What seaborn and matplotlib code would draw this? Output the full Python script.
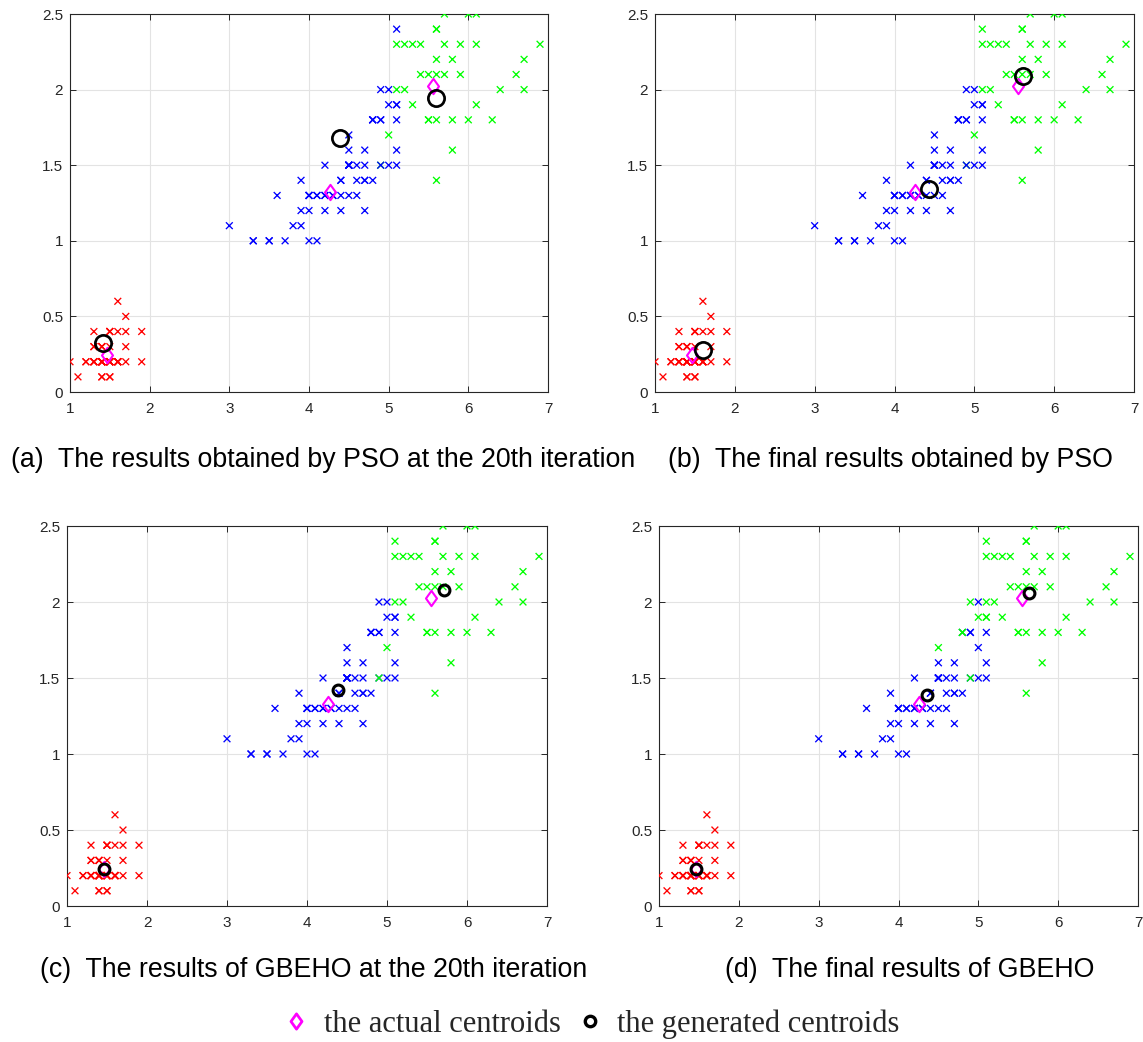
import numpy as np
import pandas as pd
import matplotlib
matplotlib.use("Agg")
import matplotlib.pyplot as plt
from matplotlib.path import Path
from matplotlib.lines import Line2D
import seaborn as sns

# ---------------- data (Iris: petal length / petal width) ----------------
petal_length = [
    1.4, 1.4, 1.3, 1.5, 1.4, 1.7, 1.4, 1.5, 1.4, 1.5,
    1.5, 1.6, 1.4, 1.1, 1.2, 1.5, 1.3, 1.4, 1.7, 1.5,
    1.7, 1.5, 1.0, 1.7, 1.9, 1.6, 1.6, 1.5, 1.4, 1.6,
    1.6, 1.5, 1.5, 1.4, 1.5, 1.2, 1.3, 1.4, 1.3, 1.5,
    1.3, 1.3, 1.3, 1.6, 1.9, 1.4, 1.6, 1.4, 1.5, 1.4,
    4.7, 4.5, 4.9, 4.0, 4.6, 4.5, 4.7, 3.3, 4.6, 3.9,
    3.5, 4.2, 4.0, 4.7, 3.6, 4.4, 4.5, 4.1, 4.5, 3.9,
    4.8, 4.0, 4.9, 4.7, 4.3, 4.4, 4.8, 5.0, 4.5, 3.5,
    3.8, 3.7, 3.9, 5.1, 4.5, 4.5, 4.7, 4.4, 4.1, 4.0,
    4.4, 4.6, 4.0, 3.3, 4.2, 4.2, 4.2, 4.3, 3.0, 4.1,
    6.0, 5.1, 5.9, 5.6, 5.8, 6.6, 4.5, 6.3, 5.8, 6.1,
    5.1, 5.3, 5.5, 5.0, 5.1, 5.3, 5.5, 6.7, 6.9, 5.0,
    5.7, 4.9, 6.7, 4.9, 5.7, 6.0, 4.8, 4.9, 5.6, 5.8,
    6.1, 6.4, 5.6, 5.1, 5.6, 6.1, 5.6, 5.5, 4.8, 5.4,
    5.6, 5.1, 5.1, 5.9, 5.7, 5.2, 5.0, 5.2, 5.4, 5.1,
]
petal_width = [
    0.2, 0.2, 0.2, 0.2, 0.2, 0.4, 0.3, 0.2, 0.2, 0.1,
    0.2, 0.2, 0.1, 0.1, 0.2, 0.4, 0.4, 0.3, 0.3, 0.3,
    0.2, 0.4, 0.2, 0.5, 0.2, 0.2, 0.4, 0.2, 0.2, 0.2,
    0.2, 0.4, 0.1, 0.2, 0.2, 0.2, 0.2, 0.1, 0.2, 0.2,
    0.3, 0.3, 0.2, 0.6, 0.4, 0.3, 0.2, 0.2, 0.2, 0.2,
    1.4, 1.5, 1.5, 1.3, 1.5, 1.3, 1.6, 1.0, 1.3, 1.4,
    1.0, 1.5, 1.0, 1.4, 1.3, 1.4, 1.5, 1.0, 1.5, 1.1,
    1.8, 1.3, 1.5, 1.2, 1.3, 1.4, 1.4, 1.7, 1.5, 1.0,
    1.1, 1.0, 1.2, 1.6, 1.5, 1.6, 1.5, 1.3, 1.3, 1.3,
    1.2, 1.4, 1.2, 1.0, 1.3, 1.2, 1.3, 1.3, 1.1, 1.3,
    2.5, 1.9, 2.1, 1.8, 2.2, 2.1, 1.7, 1.8, 1.8, 2.5,
    2.0, 1.9, 2.1, 2.0, 2.4, 2.3, 1.8, 2.2, 2.3, 1.5,
    2.3, 2.0, 2.0, 1.8, 2.1, 1.8, 1.8, 1.8, 2.1, 1.6,
    1.9, 2.0, 2.2, 1.5, 1.4, 2.3, 2.4, 1.8, 1.8, 2.1,
    2.4, 2.3, 1.9, 2.3, 2.5, 2.3, 1.9, 2.0, 2.3, 1.8,
]
species = ["setosa"] * 50 + ["versicolor"] * 50 + ["virginica"] * 50

# cluster assignment of every point in each panel (r / b / g)
cluster_a = ("rrrrrrrrrr" "rrrrrrrrrr" "rrrrrrrrrr" "rrrrrrrrrr" "rrrrrrrrrr"
             "bbgbbbbbbb" "bbbbbbbbbb" "bbbbbbbgbb" "bbbbbbbbbb" "bbbbbbbbbb"
             "gbggggbggg" "gggbbggggb" "gbgbggbbgg" "gggbggggbg" "ggbgggbggb")
cluster_b = ("rrrrrrrrrr" "rrrrrrrrrr" "rrrrrrrrrr" "rrrrrrrrrr" "rrrrrrrrrr"
             "bbgbbbbbbb" "bbbbbbbbbb" "bbbbbbbgbb" "bbbbbbbbbb" "bbbbbbbbbb"
             "gbggggbggg" "gggbgggggb" "gbgbggbbgg" "gggbggggbg" "ggbgggbggb")
cluster_c = cluster_b
cluster_d = ("rrrrrrrrrr" "rrrrrrrrrr" "rrrrrrrrrr" "rrrrrrrrrr" "rrrrrrrrrr"
             "bbgbbbbbbb" "bbbbbbbbbb" "bbbbbbbbbb" "bbbbbbbbbb" "bbbbbbbbbb"
             "gggggggggg" "gggbgggggb" "gggbgggbgg" "gggbgggggg" "gggggggggb")

# generated centroids (petal length, petal width) per panel
gen_a_x = [1.415, 4.395, 5.59]
gen_a_y = [0.325, 1.677, 1.944]
gen_b_x = [1.60, 4.43, 5.61]
gen_b_y = [0.279, 1.345, 2.09]
gen_c_x = [1.462, 4.385, 5.71]
gen_c_y = [0.246, 1.42, 2.08]
gen_d_x = [1.462, 4.355, 5.64]
gen_d_y = [0.246, 1.39, 2.06]

captions = [
    "(a)  The results obtained by PSO at the 20th iteration",
    "(b)  The final results obtained by PSO",
    "(c)  The results of GBEHO at the 20th iteration",
    "(d)  The final results of GBEHO",
]
legend_labels = ["the actual centroids", "the generated centroids"]
x_ticks = [1, 2, 3, 4, 5, 6, 7]
y_ticks = [0, 0.5, 1, 1.5, 2, 2.5]
y_tick_labels = ["0", "0.5", "1", "1.5", "2", "2.5"]

# ---------------- style ----------------
sns.set_style("ticks")
plt.rcParams["font.family"] = ["Liberation Sans", "DejaVu Sans"]
AX_COL = "#262626"

palette = {"r": "#ff0000", "b": "#0000ff", "g": "#00ff00"}
diamond = Path([(0, 1), (0.72, 0), (0, -1), (-0.72, 0), (0, 1)],
               [Path.MOVETO, Path.LINETO, Path.LINETO, Path.LINETO, Path.CLOSEPOLY])

base = pd.DataFrame({"petal_length": petal_length,
                     "petal_width": petal_width,
                     "species": species})
actual = base.groupby("species")[["petal_length", "petal_width"]].mean()

fig = plt.figure(figsize=(11.43, 10.42), dpi=100)
W, H = 1143, 1042
rects = [
    (70, 14, 548, 392),
    (655, 14, 1134, 392),
    (67, 526, 547, 906),
    (659, 526, 1138, 906),
]
panels = [
    (cluster_a, gen_a_x, gen_a_y, ["r", "g", "b"], 11.7, 1.95),
    (cluster_b, gen_b_x, gen_b_y, ["r", "g", "b"], 11.7, 1.95),
    (cluster_c, gen_c_x, gen_c_y, ["r", "b", "g"], 7.8, 2.2),
    (cluster_d, gen_d_x, gen_d_y, ["r", "b", "g"], 7.8, 2.2),
]
cap_pos = [(323, 460), (890, 460), (314, 970), (910, 970)]

for (l, t, r, b), (clu, gx, gy, order, cms, clw), cap, (cx, cy) in zip(
        rects, panels, captions, cap_pos):
    ax = fig.add_axes([l / W, 1 - b / H, (r - l) / W, (b - t) / H])
    df = base.copy()
    df["cluster"] = list(clu)
    df["rank"] = df["cluster"].map({k: i for i, k in enumerate(order)})
    df = df.sort_values("rank", kind="stable")
    sns.scatterplot(data=df, x="petal_length", y="petal_width", hue="cluster",
                    palette=palette, marker="x", s=24, linewidth=0.95,
                    legend=False, ax=ax, zorder=3)
    ax.plot(actual["petal_length"], actual["petal_width"], linestyle="none",
            marker=diamond, markersize=11, markerfacecolor="none",
            markeredgecolor="#ff00ff", markeredgewidth=1.5, zorder=4)
    ax.plot(gx, gy, linestyle="none", marker="o", markersize=cms,
            markerfacecolor="none", markeredgecolor="black",
            markeredgewidth=clw, zorder=5)
    ax.set_xlim(1, 7)
    ax.set_ylim(0, 2.5)
    ax.set_xticks(x_ticks)
    ax.set_yticks(y_ticks)
    ax.set_yticklabels(y_tick_labels)
    ax.set_xlabel("")
    ax.set_ylabel("")
    ax.grid(True, color="#e3e3e3", linewidth=0.8, zorder=0)
    ax.set_axisbelow(True)
    for s in ax.spines.values():
        s.set_color(AX_COL)
        s.set_linewidth(0.8)
    ax.tick_params(direction="in", length=4, width=0.7, colors=AX_COL,
                   labelsize=11, top=True, right=True, labelcolor=AX_COL)
    ax.tick_params(axis="x", pad=7)
    ax.tick_params(axis="y", pad=5)
    fig.text(cx / W, 1 - cy / H, cap, ha="center", va="center",
             fontsize=19.3, color="black")

handles = [
    Line2D([], [], linestyle="none", marker=diamond, markersize=11,
           markerfacecolor="none", markeredgecolor="#ff00ff",
           markeredgewidth=2.0),
    Line2D([], [], linestyle="none", marker="o", markersize=7.5,
           markerfacecolor="none", markeredgecolor="black",
           markeredgewidth=2.4),
]
fig.legend(handles, legend_labels, loc="center", ncol=2,
           bbox_to_anchor=(592 / W, 1 - 1024 / H), frameon=False,
           prop={"family": "Liberation Serif", "size": 22},
           handlelength=0.8, handletextpad=0.5, columnspacing=0.55,
           borderpad=0, borderaxespad=0)

fig.savefig("out.png", dpi=100)
